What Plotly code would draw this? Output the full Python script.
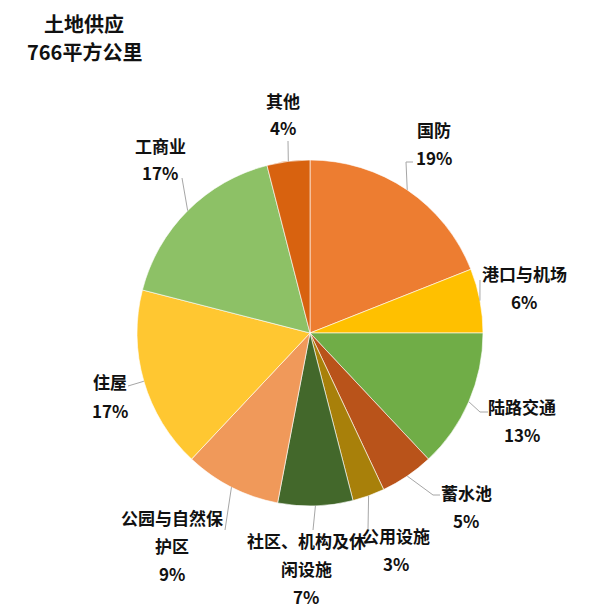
import math
import plotly.graph_objects as go

# ===== データ =====
labels = ["国防", "港口与机场", "陆路交通", "蓄水池", "公用设施",
          "社区、机构及休闲设施", "公园与自然保护区", "住屋", "工商业", "其他"]
values = [19, 6, 13, 5, 3, 7, 9, 17, 17, 4]
colors = ["#ED7D31", "#FFC000", "#70AD47", "#B9531A", "#A8800A",
          "#43682B", "#F0995A", "#FFC731", "#8DC166", "#D8620F"]
title_lines = ["土地供应", "766平方公里"]

# ===== レイアウト（ピクセル） =====
W, H = 600, 616
OFF = 8  # ページ余白の分
CX, CY, R = 310, 333, 173
FONT = "Noto Sans CJK SC"

# 折り返し幅
wrap = {"社区、机构及休闲设施": 7, "公园与自然保护区": 6}

# ラベル中心（1行目）と引出線の終点
label_pos = [(434, 130), (524, 273), (522, 406), (466, 492), (396, 535),
             (306, 540), (172, 517), (110, 382), (160, 145), (283, 100)]
leader_end = [[(406, 162), (413, 162)], [(480, 280)], [(480, 412), (488, 412)],
              [(433, 495), (440, 495)], [(368, 530)], [(313, 530)],
              [(225, 530)], [(128, 386)], [(182, 178)], [(288, 141)]]
LINE_GAP = 28


def px(x):
    return (x - OFF) / W


def py(y):
    return 1 - (y - OFF) / H


fig = go.Figure()

fig.add_trace(go.Pie(
    labels=labels,
    values=values,
    sort=False,
    direction="clockwise",
    rotation=0,
    textinfo="none",
    marker=dict(colors=colors, line=dict(color="rgba(255,255,255,0.6)", width=1)),
    domain=dict(x=[px(CX - R), px(CX + R)], y=[py(CY + R), py(CY - R)]),
    showlegend=False,
))

annotations = []
shapes = []

total = sum(values)
cum = 0
for i, (lab, v) in enumerate(zip(labels, values)):
    mid = (cum + v / 2) / total
    cum += v
    ang = 2 * math.pi * mid
    ex, ey = CX + R * math.sin(ang), CY - R * math.cos(ang)

    # 引出線
    pts = [(ex, ey)] + leader_end[i]
    path = "M " + " L ".join(f"{px(x)},{py(y)}" for x, y in pts)
    shapes.append(dict(type="path", xref="paper", yref="paper", path=path,
                       line=dict(color="#A6A6A6", width=1)))

    # ラベル
    n = wrap.get(lab, len(lab))
    lines = [lab[k:k + n] for k in range(0, len(lab), n)]
    lines.append(f"{round(v / total * 100)}%")
    lx, ly = label_pos[i]
    for j, t in enumerate(lines):
        annotations.append(dict(
            x=px(lx), y=py(ly + j * LINE_GAP), xref="paper", yref="paper",
            text=t, showarrow=False, xanchor="center", yanchor="middle",
            font=dict(family=FONT, size=17, color="#111111", weight="bold"),
        ))

# タイトル（1行目は上端に合わせる）
annotations.append(dict(
    x=px(84), y=1, xref="paper", yref="paper",
    text=title_lines[0], showarrow=False, xanchor="center", yanchor="top",
    borderpad=0,
    font=dict(family=FONT, size=20, color="#111111", weight="bold"),
))
annotations.append(dict(
    x=px(84), y=py(52), xref="paper", yref="paper",
    text=title_lines[1], showarrow=False, xanchor="center", yanchor="middle",
    font=dict(family=FONT, size=20, color="#111111", weight="bold"),
))

fig.update_layout(
    width=W, height=H,
    margin=dict(l=0, r=0, t=0, b=0),
    paper_bgcolor="white",
    plot_bgcolor="white",
    annotations=annotations,
    shapes=shapes,
)

fig.write_html("out.html")
